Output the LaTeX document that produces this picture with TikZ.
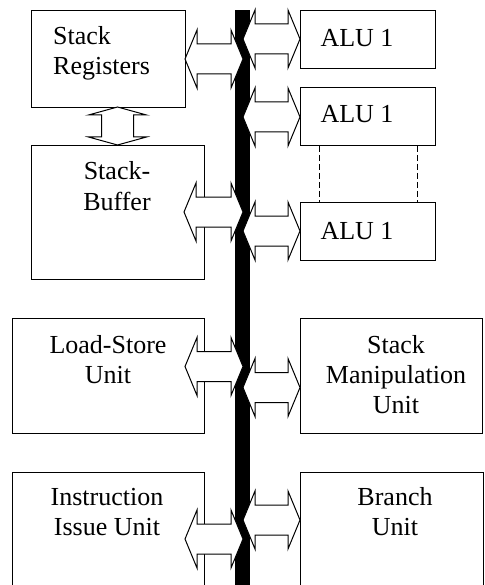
\documentclass[tikz,border=0pt]{standalone}
\usepackage{fontspec}
\setmainfont{Liberation Serif}
\newcommand\hdarrow[3]{\draw[barrow] (#1,#3) -- ({#1+12},{#3-29}) -- ({#1+12},{#3-15}) -- ({#2-12},{#3-15}) -- ({#2-12},{#3-29}) -- (#2,#3) -- ({#2-12},{#3+29}) -- ({#2-12},{#3+15}) -- ({#1+12},{#3+15}) -- ({#1+12},{#3+29}) -- cycle;}
\newcommand\vdarrow[3]{\draw[barrow] (#1,#2) -- ({#1+29},{#2+8}) -- ({#1+16},{#2+8}) -- ({#1+16},{#3-8}) -- ({#1+29},{#3-8}) -- (#1,#3) -- ({#1-29},{#3-8}) -- ({#1-16},{#3-8}) -- ({#1-16},{#2+8}) -- ({#1-29},{#2+8}) -- cycle;}
\begin{document}
\begin{tikzpicture}[x=1pt,y=-1pt,
  box/.style={draw,line width=1pt,inner sep=0pt,anchor=north west},
  lbl/.style={font=\fontsize{26}{30}\selectfont,inner sep=0pt,align=center,anchor=base},
  barrow/.style={draw,fill=white,line width=1pt,line join=miter},
  dsh/.style={line width=1pt,dash pattern=on 6pt off 3pt}]
\useasboundingbox (0,0) rectangle (484,585);
\clip (0,0) rectangle (484,585);
% boxes
\node[box,minimum width=154pt,minimum height=97pt] (sr) at (31,10) {};
\node[box,minimum width=173pt,minimum height=134pt] (sb) at (31,145) {};
\node[box,minimum width=192pt,minimum height=115pt] (ls) at (12,318) {};
\node[box,minimum width=192pt,minimum height=150pt] (iu) at (12,472) {};
\node[box,minimum width=135pt,minimum height=58pt] (a1) at (300,10) {};
\node[box,minimum width=135pt,minimum height=58pt] (a2) at (300,87) {};
\node[box,minimum width=135pt,minimum height=58pt] (a3) at (300,202) {};
\node[box,minimum width=182pt,minimum height=115pt] (sm) at (300,318) {};
\node[box,minimum width=183pt,minimum height=150pt] (bu) at (300,472) {};
% dashed
\draw[dsh] ([xshift=19pt]a2.south west) -- ([xshift=19pt]a3.north west);
\draw[dsh] ([xshift=-19pt]a2.south east) -- ([xshift=-19pt]a3.north east);
% bus
\node[fill=black,inner sep=0pt,anchor=north west,minimum width=15pt,minimum height=600pt] (bus) at (235,10) {};
% arrows
\hdarrow{185}{243}{59}
\hdarrow{184}{243}{212}
\hdarrow{185}{243}{366.5}
\hdarrow{185}{243}{539}
\hdarrow{243}{300}{39}
\hdarrow{243}{300}{117}
\hdarrow{243}{300}{231}
\hdarrow{243}{300}{387.5}
\hdarrow{243}{300}{520}
\vdarrow{117.5}{107}{145}
% labels
\node[lbl,align=left,anchor=base west] (tsr) at (53,75) {Stack\\Registers};
\node[lbl] (t1) at (357,47) {ALU 1};
\node[lbl] (t2) at (357,123) {ALU 1};
\node[lbl] (t3) at (357,239) {ALU 1};
\node[lbl] (tsb) at (117,210) {Stack-\\Buffer};
\node[lbl] (tls) at (108,383) {Load-Store\\Unit};
\node[lbl] (tsm) at (396,413) {Stack\\Manipulation\\Unit};
\node[lbl] (tiu) at (107,535) {Instruction\\Issue Unit};
\node[lbl] (tbu) at (395,535) {Branch\\Unit};
\end{tikzpicture}
\end{document}
